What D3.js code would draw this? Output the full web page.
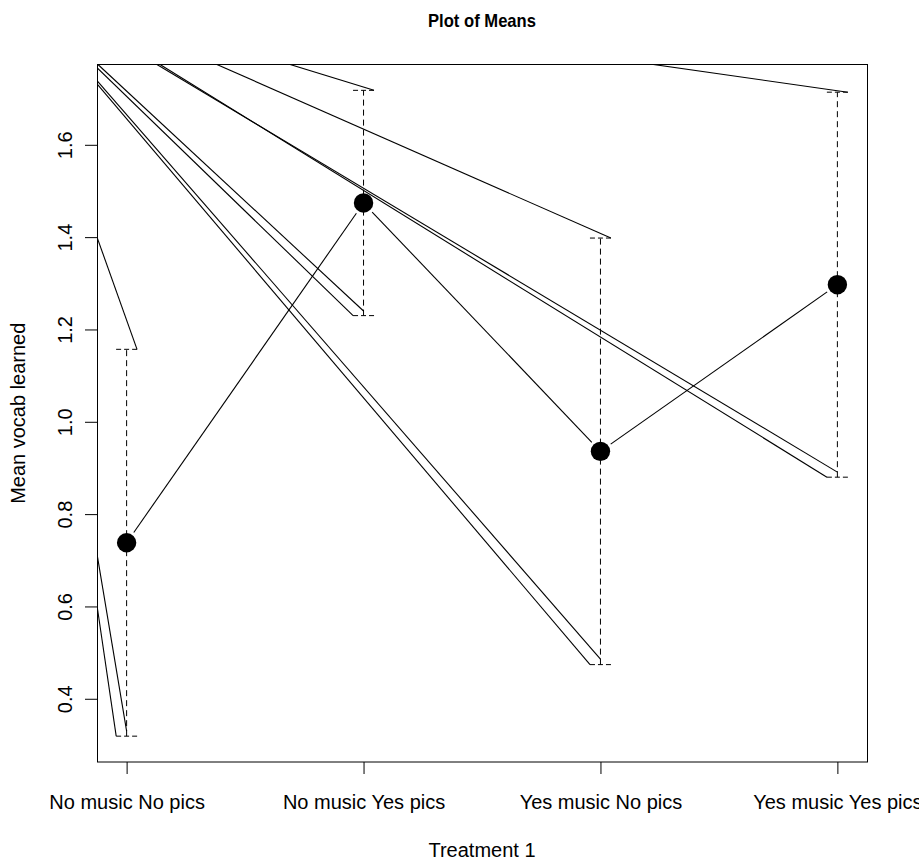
<!DOCTYPE html>
<html>
<head>
<meta charset="utf-8">
<script src="https://cdn.jsdelivr.net/npm/d3@7"></script>
<style>
    body { margin: 0; background: #fff; }
    svg { display: block; font-family: "Liberation Sans", Arial, sans-serif; }
</style>
</head>
<body>
<div id="chart"></div>
<script>
// treatment groups and their means with confidence limits
const groups = ['No music No pics', 'No music Yes pics', 'Yes music No pics', 'Yes music Yes pics'];
const means = [0.738, 1.474, 0.936, 1.297];
const ciLower = [0.319, 1.230, 0.474, 0.880];
const ciUpper = [1.157, 1.718, 1.398, 1.714];
const yTicks = [0.4, 0.6, 0.8, 1.0, 1.2, 1.4, 1.6];

// the broken arrow heads R drew on the CI caps: [x1, y1, x2, y2] in data units
const strayStrokes = [
    [1.044, 1.157, 0.875, 1.400],
    [0.956, 0.319, 0.875, 0.602],
    [1.000, 0.330, 0.875, 0.714],
    [2.044, 1.718, 1.690, 1.774],
    [1.956, 1.230, 0.875, 1.767],
    [2.000, 1.240, 0.879, 1.774],
    [3.044, 1.398, 1.381, 1.774],
    [2.956, 0.474, 0.875, 1.732],
    [3.000, 0.486, 0.875, 1.739],
    [4.044, 1.714, 3.223, 1.774],
    [3.956, 0.880, 1.141, 1.774],
    [4.000, 0.891, 1.128, 1.774]
];

class MeansPlot {
    constructor(container) {
        this.container = container;
        this.fullWidth = 919;
        this.fullHeight = 861;
        this.margin = {top: 64.5, right: 52, bottom: 99, left: 97};
        this.width = this.fullWidth - this.margin.left - this.margin.right;
        this.height = this.fullHeight - this.margin.top - this.margin.bottom;
        this.fontSize = '20px';
    }

    render() {
        const svg = d3.select(this.container).append('svg')
            .attr('width', this.fullWidth)
            .attr('height', this.fullHeight);

        const g = svg.append('g')
            .attr('transform', `translate(${this.margin.left},${this.margin.top})`);

        const x = d3.scaleLinear()
            .domain([0.875, groups.length + 0.125])
            .range([0, this.width]);

        // R style 4% padding around the CI range
        const lo = d3.min(ciLower), hi = d3.max(ciUpper);
        const pad = (hi - lo) * 0.04;
        const y = d3.scaleLinear()
            .domain([lo - pad, hi + pad])
            .range([this.height, 0]);

        g.append('clipPath').attr('id', 'plot-clip')
            .append('rect')
            .attr('width', this.width)
            .attr('height', this.height);

        const plot = g.append('g').attr('clip-path', 'url(#plot-clip)');

        // stray strokes
        plot.selectAll('.stray')
            .data(strayStrokes)
            .enter().append('line')
            .attr('class', 'stray')
            .attr('x1', d => x(d[0]))
            .attr('y1', d => y(d[1]))
            .attr('x2', d => x(d[2]))
            .attr('y2', d => y(d[3]))
            .attr('stroke', '#000')
            .attr('stroke-width', 1.1);

        const idx = d3.range(groups.length);
        const capHalf = 10.5;

        // dashed CI bars
        plot.selectAll('.ci')
            .data(idx)
            .enter().append('line')
            .attr('class', 'ci')
            .attr('x1', i => x(i + 1))
            .attr('x2', i => x(i + 1))
            .attr('y1', i => y(ciLower[i]))
            .attr('y2', i => y(ciUpper[i]))
            .attr('stroke', '#000')
            .attr('stroke-dasharray', '6,4');

        const caps = idx.flatMap(i => [[i, ciLower[i]], [i, ciUpper[i]]]);
        plot.selectAll('.cap')
            .data(caps)
            .enter().append('line')
            .attr('class', 'cap')
            .attr('x1', d => x(d[0] + 1) - capHalf)
            .attr('x2', d => x(d[0] + 1) + capHalf)
            .attr('y1', d => y(d[1]))
            .attr('y2', d => y(d[1]))
            .attr('stroke', '#000')
            .attr('stroke-dasharray', '5,3');

        // connecting line with gaps around points (type = "b")
        const gap = 12.5;
        plot.selectAll('.link')
            .data(idx.slice(0, -1))
            .enter().append('line')
            .attr('class', 'link')
            .each(function(i) {
                const x0 = x(i + 1), y0 = y(means[i]);
                const x1 = x(i + 2), y1 = y(means[i + 1]);
                const len = Math.hypot(x1 - x0, y1 - y0);
                const ux = (x1 - x0) / len, uy = (y1 - y0) / len;
                d3.select(this)
                    .attr('x1', x0 + ux * gap).attr('y1', y0 + uy * gap)
                    .attr('x2', x1 - ux * gap).attr('y2', y1 - uy * gap);
            })
            .attr('stroke', '#000')
            .attr('stroke-width', 1.1);

        plot.selectAll('.pt')
            .data(idx)
            .enter().append('circle')
            .attr('class', 'pt')
            .attr('cx', i => x(i + 1))
            .attr('cy', i => y(means[i]))
            .attr('r', 9.7)
            .attr('fill', '#000');

        // axes
        const xAxis = g.append('g')
            .attr('transform', `translate(0,${this.height})`)
            .call(d3.axisBottom(x).tickValues([1, 2, 3, 4]).tickSize(12)
                .tickFormat(d => groups[d - 1]));
        xAxis.select('.domain').remove();
        xAxis.selectAll('text')
            .style('font-size', this.fontSize)
            .attr('fill', '#000')
            .attr('y', 40)
            .attr('dy', '0.35em');

        const yAxis = g.append('g')
            .call(d3.axisLeft(y).tickValues(yTicks).tickSize(12).tickFormat(d3.format('.1f')));
        yAxis.select('.domain').remove();
        yAxis.selectAll('text')
            .style('font-size', this.fontSize)
            .attr('fill', '#000')
            .attr('x', 0)
            .attr('y', -32)
            .attr('dy', '0.35em')
            .attr('text-anchor', 'middle')
            .attr('transform', 'rotate(-90)');

        // box
        g.append('rect')
            .attr('x', 0.5)
            .attr('y', 0)
            .attr('width', this.width)
            .attr('height', this.height)
            .attr('fill', 'none')
            .attr('stroke', '#000');

        // titles
        svg.append('text')
            .attr('x', this.margin.left + this.width / 2)
            .attr('y', 27)
            .attr('text-anchor', 'middle')
            .attr('textLength', 108)
            .attr('lengthAdjust', 'spacingAndGlyphs')
            .style('font-size', '19px')
            .style('font-weight', 'bold')
            .text('Plot of Means');

        svg.append('text')
            .attr('x', this.margin.left + this.width / 2)
            .attr('y', 857)
            .attr('text-anchor', 'middle')
            .style('font-size', this.fontSize)
            .text('Treatment 1');

        svg.append('text')
            .attr('transform', `translate(25,${this.margin.top + this.height / 2}) rotate(-90)`)
            .attr('text-anchor', 'middle')
            .style('font-size', this.fontSize)
            .text('Mean vocab learned');
    }
}

new MeansPlot(document.getElementById('chart')).render();
</script>
</body>
</html>
